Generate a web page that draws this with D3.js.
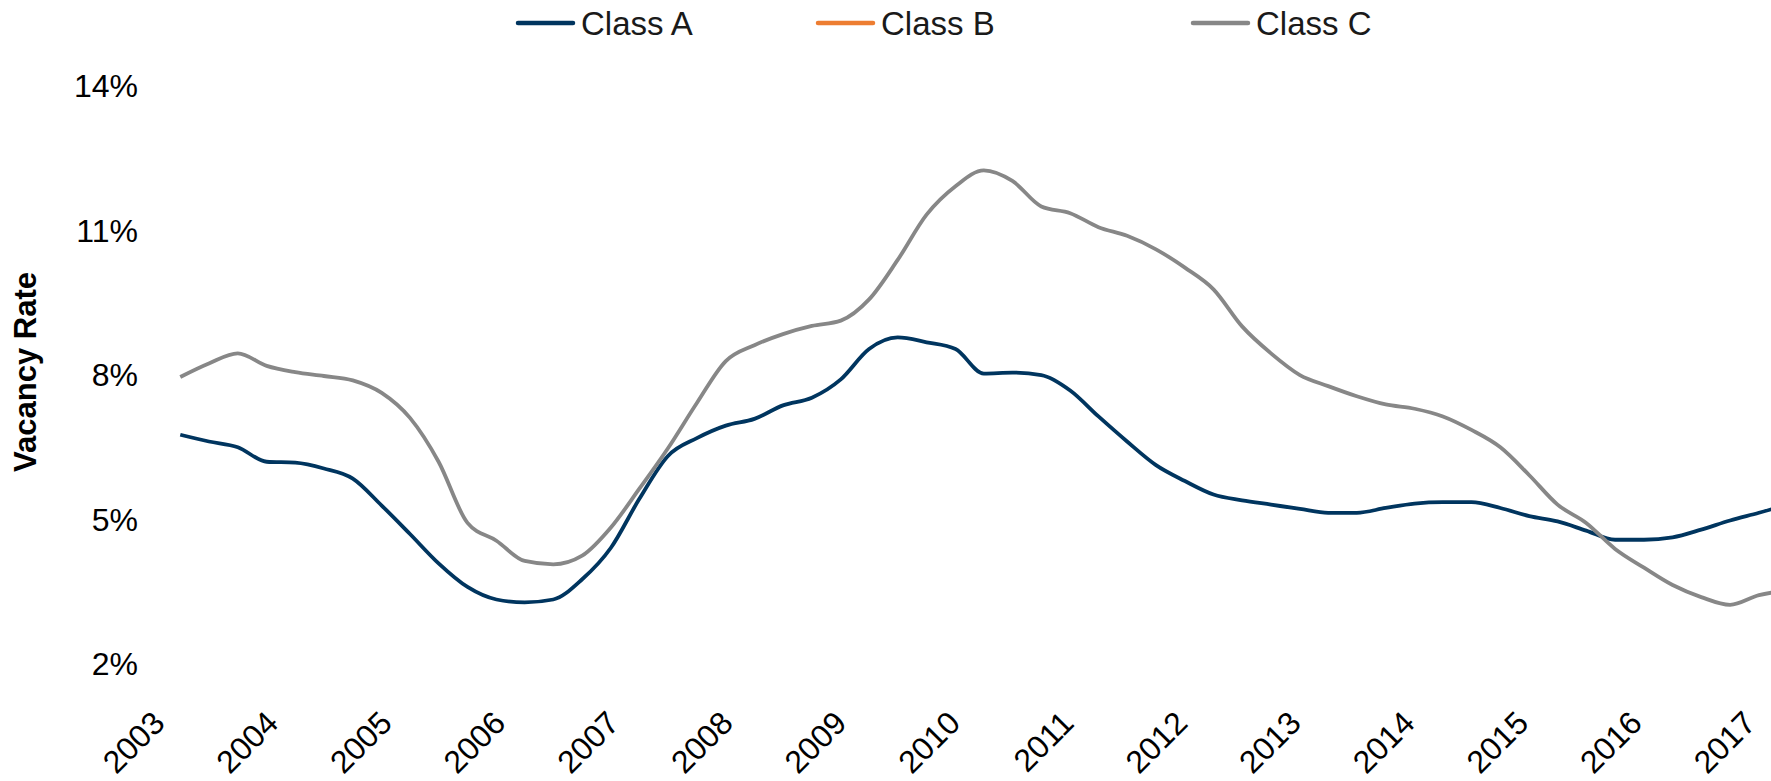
<!DOCTYPE html>
<html>
<head>
<meta charset="utf-8">
<script src="https://cdn.jsdelivr.net/npm/d3@7"></script>
<style>
  body { margin: 0; background: #fff; }
  text { font-family: "Liberation Sans", Arial, sans-serif; fill: #000; }
</style>
</head>
<body>
<svg width="1771" height="781"></svg>
<script>
// quarterly periods
const periods = ["2003-04","2003-07","2003-10",
  "2004-01","2004-04","2004-07","2004-10",
  "2005-01","2005-04","2005-07","2005-10",
  "2006-01","2006-04","2006-07","2006-10",
  "2007-01","2007-04","2007-07","2007-10",
  "2008-01","2008-04","2008-07","2008-10",
  "2009-01","2009-04","2009-07","2009-10",
  "2010-01","2010-04","2010-07","2010-10",
  "2011-01","2011-04","2011-07","2011-10",
  "2012-01","2012-04","2012-07","2012-10",
  "2013-01","2013-04","2013-07","2013-10",
  "2014-01","2014-04","2014-07","2014-10",
  "2015-01","2015-04","2015-07","2015-10",
  "2016-01","2016-04","2016-07","2016-10",
  "2017-01","2017-04"]

// vacancy rate, percent
const classA = [6.78,6.64,6.52,6.22,6.20,6.08,5.87,5.31,4.72,4.11,
  3.62,3.36,3.30,3.36,3.78,4.44,5.45,6.34,6.71,6.97,
  7.11,7.39,7.55,7.93,8.56,8.80,8.70,8.56,8.05,8.07,
  8.02,7.70,7.16,6.64,6.15,5.82,5.54,5.42,5.33,5.24,
  5.16,5.16,5.26,5.35,5.38,5.38,5.26,5.09,4.98,4.79,
  4.60,4.60,4.65,4.81,5.00,5.16,5.33]
const classB = []
const classC = [7.98,8.26,8.47,8.21,8.08,8.00,7.91,7.65,7.13,6.22,
  4.95,4.58,4.16,4.09,4.27,4.86,5.66,6.50,7.44,8.31,
  8.64,8.87,9.04,9.15,9.59,10.41,11.35,11.94,12.27,12.05,
  11.52,11.38,11.09,10.91,10.63,10.25,9.80,9.03,8.47,8.02,
  7.79,7.58,7.41,7.32,7.16,6.88,6.52,5.94,5.33,4.95,
  4.41,4.02,3.66,3.41,3.25,3.45,3.55]

const yearLabels = ["2003","2004","2005","2006","2007","2008","2009","2010",
  "2011","2012","2013","2014","2015","2016","2017"]
const yTicks = [2, 5, 8, 11, 14]

const seriesNames = ["Class A", "Class B", "Class C"]
const seriesColors = ["#00355f", "#ed7d31", "#878787"]

var parseMonth = d3.timeParse("%Y-%m")
var parseYear = d3.timeParse("%Y")

var svg = d3.select("svg")

var x = d3.scaleTime()
  .domain([parseYear("2003"), parseYear("2017")])
  .range([152, 1759])
var y = d3.scaleLinear().domain([2, 14]).range([665, 87])
// year labels sit on their own category scale
var xLabel = d3.scalePoint().domain(yearLabels).range([166, 1757])

// y axis
var yAxis = svg.append("g")
  .attr("transform", "translate(138,0)")
  .call(d3.axisLeft(y).tickValues(yTicks).tickSize(0).tickPadding(0)
    .tickFormat(d => d + "%"))
yAxis.select(".domain").remove()
yAxis.selectAll("text").style("font-size", "32px").style("font-family", null)
  .attr("dy", "0.3em")

// x axis
var xAxis = svg.append("g")
  .attr("transform", "translate(0,725)")
  .call(d3.axisBottom(xLabel).tickSize(0))
xAxis.select(".domain").remove()
xAxis.selectAll("text")
  .style("font-size", "32px").style("font-family", null)
  .style("text-anchor", "end")
  .attr("x", 0).attr("y", 0).attr("dy", 0)
  .attr("transform", "rotate(-45)")

svg.append("text")
  .attr("transform", "translate(36,372) rotate(-90)")
  .attr("text-anchor", "middle")
  .style("font-size", "31px").style("font-weight", "bold")
  .text("Vacancy Rate")

var line = d3.line()
  .x((d, i) => x(parseMonth(periods[i])))
  .y(d => y(d))
  .curve(d3.curveMonotoneX)

var allSeries = [classA, classB, classC]
svg.selectAll("path.series")
  .data(allSeries)
  .enter()
  .append("path")
  .attr("class", "series")
  .attr("fill", "none")
  .attr("stroke", (d, i) => seriesColors[i])
  .attr("stroke-width", 3.8)
  .attr("stroke-linejoin", "round")
  .attr("d", d => d.length ? line(d) : null)

// legend
var legendX = [518, 818, 1193]
var legendG = svg.selectAll("g.legend")
  .data(seriesNames)
  .enter()
  .append("g")
  .attr("class", "legend")
  .attr("transform", (d, i) => "translate(" + legendX[i] + ",23)")
legendG.append("line")
  .attr("x1", 0).attr("x2", 55)
  .attr("stroke", (d, i) => seriesColors[i])
  .attr("stroke-width", 4.5)
  .attr("stroke-linecap", "round")
legendG.append("text")
  .attr("x", 63).attr("dy", "0.36em")
  .style("font-size", "33px")
  .style("fill", "#1a1a1a")
  .text(d => d)
</script>
</body>
</html>
